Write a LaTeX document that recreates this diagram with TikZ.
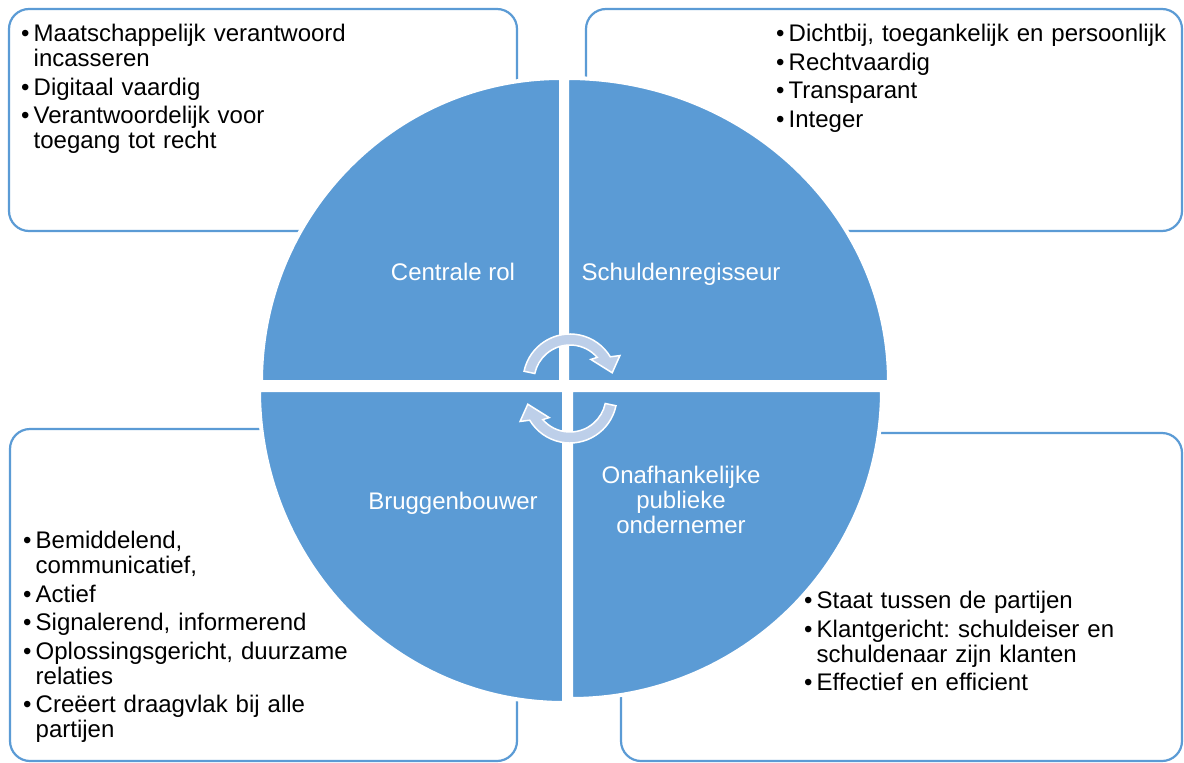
\documentclass[tikz,border=0pt]{standalone}
\usepackage{fontspec}
\setmainfont{Liberation Sans}
\usetikzlibrary{calc}
\definecolor{qblue}{RGB}{91,155,213}
\definecolor{arrowfill}{RGB}{189,207,233}
\newcommand{\bitem}[1]{\par\noindent\hangindent=12.5pt\hangafter=1\hbox to 12.5pt{\textbullet\hss}#1\par\vspace{3.5pt}}
\frenchspacing
\begin{document}
\begin{tikzpicture}[x=1pt,y=-1pt,
  cbox/.style={draw=qblue, line width=2.2pt, fill=white, rounded corners=20pt, inner sep=0pt},
  quad/.style={fill=qblue, draw=white, line width=4pt},
  cyc/.style={fill=arrowfill, draw=white, line width=1.5pt, line join=miter},
  listtext/.style={anchor=base west, inner sep=0pt, text width=#1, align=left,
    font=\fontsize{24}{25}\selectfont\frenchspacing},
  qlabel/.style={inner sep=0pt, text=white, font=\fontsize{24}{25}\selectfont},
]
\useasboundingbox (0,0) rectangle (1184,763);

% outer boxes
\node[cbox, minimum width=508pt, minimum height=222pt] (boxTL) at (263,120) {};
\node[cbox, minimum width=596pt, minimum height=222pt] (boxTR) at (884,120) {};
\node[cbox, minimum width=507pt, minimum height=332pt] (boxBL) at (263.5,595) {};
\node[cbox, minimum width=561pt, minimum height=328pt] (boxBR) at (901.5,597) {};

% quadrants
\path[quad] (561,382) -- ++(-300,0) arc[start angle=180, end angle=270, x radius=300, y radius=304] -- cycle;
\path[quad] (567,382) -- ++(0,-304) arc[start angle=270, end angle=360, x radius=322, y radius=304] -- cycle;
\path[quad] (564,390) -- ++(-305,0) arc[start angle=180, end angle=90, x radius=305, y radius=313] -- cycle;
\path[quad] (571,390) -- ++(311,0) arc[start angle=0, end angle=90, x radius=311, y radius=309] -- cycle;

% cycle arrows
\coordinate (c1) at (570,381);
\coordinate (c2) at (570,396);
\path[cyc] ($(c1)+(-168:47)$) arc[start angle=-168, end angle=-31, radius=47]
  -- ($(c1)+(-27:56)$) -- ($(c1)+(-11:43)$) -- ($(c1)+(-46:30)$) -- ($(c1)+(-41:36)$)
  arc[start angle=-41, end angle=-168, radius=36] -- cycle;
\path[cyc] ($(c2)+(12:47)$) arc[start angle=12, end angle=149, radius=47]
  -- ($(c2)+(153:56)$) -- ($(c2)+(169:43)$) -- ($(c2)+(134:30)$) -- ($(c2)+(139:36)$)
  arc[start angle=139, end angle=12, radius=36] -- cycle;

% quadrant labels
\node[qlabel, anchor=base] (lCR) at (453,280) {Centrale rol};
\node[qlabel, anchor=base] (lSR) at (681,280) {Schuldenregisseur};
\node[qlabel, anchor=base] (lBB) at (453,509) {Bruggenbouwer};
\node[qlabel, anchor=base, text width=220pt, align=center] (lOP) at (681,483) {Onafhankelijke\\publieke\\ondernemer};

% bullet lists
\node[listtext=480pt] (tTL) at (21,16.5) {\bitem{Maatschappelijk verantwoord\newline incasseren}%
  \bitem{Digitaal vaardig}%
  \bitem{Verantwoordelijk voor\newline toegang tot recht}};
\node[listtext=400pt] (tTR) at (776,16.5) {\bitem{Dichtbij, toegankelijk en persoonlijk}%
  \bitem{Rechtvaardig}%
  \bitem{Transparant}%
  \bitem{Integer}};
\node[listtext=480pt] (tBL) at (23,523.5) {\bitem{Bemiddelend,\newline communicatief,}%
  \bitem{Actief}%
  \bitem{Signalerend, informerend}%
  \bitem{Oplossingsgericht, duurzame\newline relaties}%
  \bitem{Creëert draagvlak bij alle\newline partijen}};
\node[listtext=370pt] (tBR) at (804,583.5) {\bitem{Staat tussen de partijen}%
  \bitem{Klantgericht: schuldeiser en\newline schuldenaar zijn klanten}%
  \bitem{Effectief en efficient}};
\end{tikzpicture}
\end{document}
